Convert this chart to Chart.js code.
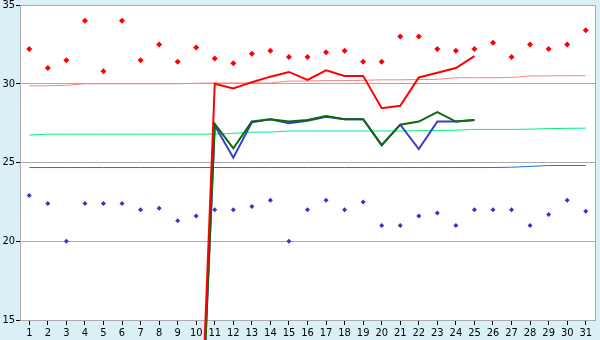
<!DOCTYPE html>
<html>
<head>
<meta charset="utf-8">
<script src="https://cdn.jsdelivr.net/npm/chart.js@4/dist/chart.umd.min.js"></script>
<style>
    body { margin: 0; background: #dbeff6; }
    #wrap { width: 600px; height: 340px; }
</style>
</head>
<body>
<div id="wrap"><canvas id="temp-chart" width="600" height="340"></canvas></div>
<script>
const days = ['1', '2', '3', '4', '5', '6', '7', '8', '9', '10', '11', '12', '13', '14', '15', '16',
    '17', '18', '19', '20', '21', '22', '23', '24', '25', '26', '27', '28', '29', '30', '31'];

const yTicks = [15, 20, 25, 30, 35];

// daily highs / lows (diamonds)
const dailyMax = [32.2, 31.0, 31.5, 34.0, 30.8, 34.0, 31.5, 32.5, 31.4, 32.3, 31.6, 31.3, 31.9, 32.1, 31.7, 31.7,
    32.0, 32.1, 31.4, 31.4, 33.0, 33.0, 32.2, 32.1, 32.2, 32.6, 31.7, 32.5, 32.2, 32.5, 33.4];
const dailyMin = [22.9, 22.4, 20.0, 22.4, 22.4, 22.4, 22.0, 22.1, 21.3, 21.6, 22.0, 22.0, 22.2, 22.6, 20.0, 22.0,
    22.6, 22.0, 22.5, 21.0, 21.0, 21.6, 21.8, 21.0, 22.0, 22.0, 22.0, 21.0, 21.7, 22.6, 21.9];

// thin reference lines
const normalMax = [29.87, 29.87, 29.9, 30.0, 30.0, 30.0, 30.0, 30.0, 30.0, 30.03, 30.05, 30.05, 30.05, 30.05, 30.17, 30.17,
    30.2, 30.2, 30.22, 30.25, 30.25, 30.27, 30.28, 30.38, 30.38, 30.38, 30.4, 30.5, 30.5, 30.51, 30.51];
const normalMean = [26.74, 26.8, 26.8, 26.8, 26.8, 26.8, 26.8, 26.8, 26.8, 26.8, 26.8, 26.85, 26.93, 26.93, 27.0, 27.0,
    27.0, 27.0, 27.0, 27.0, 27.0, 27.02, 27.03, 27.05, 27.1, 27.1, 27.1, 27.12, 27.15, 27.17, 27.18];
const normalMin = [24.68, 24.68, 24.68, 24.68, 24.68, 24.68, 24.68, 24.68, 24.68, 24.68, 24.68, 24.68, 24.68, 24.68, 24.68, 24.68,
    24.68, 24.68, 24.68, 24.68, 24.68, 24.68, 24.68, 24.68, 24.68, 24.68, 24.7, 24.75, 24.81, 24.81, 24.81];

// thick lines, days 10-25
const sensorRed = [null, null, null, null, null, null, null, null, null, 0, 30.0, 29.7, 30.1, 30.45, 30.75, 30.25,
    30.85, 30.5, 30.5, 28.45, 28.6, 30.4, 30.7, 31.0, 31.75, null, null, null, null, null, null];
const sensorGreen = [null, null, null, null, null, null, null, null, null, 0, 27.45, 25.9, 27.6, 27.75, 27.6, 27.7,
    27.95, 27.75, 27.75, 26.1, 27.4, 27.6, 28.2, 27.6, 27.7, null, null, null, null, null, null];
const sensorBlue = [null, null, null, null, null, null, null, null, null, 0, 27.35, 25.3, 27.55, 27.75, 27.5, 27.65,
    27.9, 27.75, 27.75, 26.1, 27.4, 25.85, 27.6, 27.6, 27.7, null, null, null, null, null, null];

const FONT = { family: "'DejaVu Sans Condensed', 'DejaVu Sans', sans-serif", size: 11 };

const plotFrame = {
    id: 'plotFrame',
    beforeDraw(chart) {
        const ctx = chart.ctx;
        const a = chart.chartArea;
        ctx.save();
        ctx.fillStyle = '#dbeff6';
        ctx.fillRect(0, 0, chart.width, chart.height);
        ctx.fillStyle = '#ffffff';
        ctx.fillRect(a.left, a.top, a.right - a.left, a.bottom - a.top);
        ctx.restore();
    },
    beforeDatasetsDraw(chart) {
        const ctx = chart.ctx;
        const a = chart.chartArea;
        ctx.save();
        ctx.strokeStyle = '#aaaaaa';
        ctx.lineWidth = 1;
        ctx.beginPath();
        ctx.moveTo(a.left, Math.round(a.top) + 0.5);
        ctx.lineTo(Math.round(a.right) + 0.5, Math.round(a.top) + 0.5);
        ctx.lineTo(Math.round(a.right) + 0.5, a.bottom);
        ctx.stroke();
        ctx.restore();
    }
};

function lineSet(data, color, width) {
    return {
        type: 'line',
        data: data,
        borderColor: color,
        borderWidth: width,
        pointRadius: 0,
        fill: false,
        tension: 0,
        spanGaps: false,
        clip: false
    };
}

function dotSet(data, color, radius) {
    return {
        type: 'line',
        data: data,
        showLine: false,
        pointStyle: 'rectRot',
        pointRadius: radius,
        pointBackgroundColor: color,
        pointBorderColor: color,
        pointBorderWidth: 0
    };
}

function createChart() {
    const ctx = document.getElementById('temp-chart').getContext('2d');
    new Chart(ctx, {
        type: 'line',
        data: {
            labels: days,
            datasets: [
                lineSet(sensorRed, '#ff0000', 2),
                lineSet(sensorGreen, '#0a6b0a', 2),
                lineSet(sensorBlue, '#3b3bd0', 2),
                dotSet(dailyMax, '#ff0000', 3),
                dotSet(dailyMin, '#3535cc', 2.5),
                lineSet(normalMax, '#ff8080', 1),
                lineSet(normalMean, '#00f080', 1),
                lineSet(normalMin, '#1c74da', 1)
            ]
        },
        options: {
            responsive: false,
            animation: false,
            events: [],
            layout: { padding: { top: 5, right: 5, left: 0, bottom: 0 } },
            plugins: { legend: { display: false }, tooltip: { enabled: false } },
            scales: {
                x: {
                    offset: true,
                    grid: { drawOnChartArea: false, tickColor: '#000000', tickLength: 5 },
                    border: { color: '#aaaaaa' },
                    ticks: { color: '#000000', font: FONT, maxRotation: 0, autoSkip: false, padding: 2 },
                    afterFit(scale) {
                        scale.height = 20;
                        scale.paddingLeft = 0;
                        scale.paddingRight = 0;
                    }
                },
                y: {
                    min: 15,
                    max: 35,
                    afterBuildTicks(scale) {
                        scale.ticks = yTicks.map(v => ({ value: v }));
                    },
                    grid: { color: '#aaaaaa', tickColor: '#000000', tickLength: 4 },
                    border: { color: '#aaaaaa' },
                    ticks: { color: '#000000', font: FONT, padding: 1 },
                    afterFit(scale) {
                        scale.width = 20;
                        scale.paddingTop = 0;
                        scale.paddingBottom = 0;
                    }
                }
            }
        },
        plugins: [plotFrame]
    });
}

document.addEventListener("DOMContentLoaded", function () {
    createChart();
});
</script>
</body>
</html>
